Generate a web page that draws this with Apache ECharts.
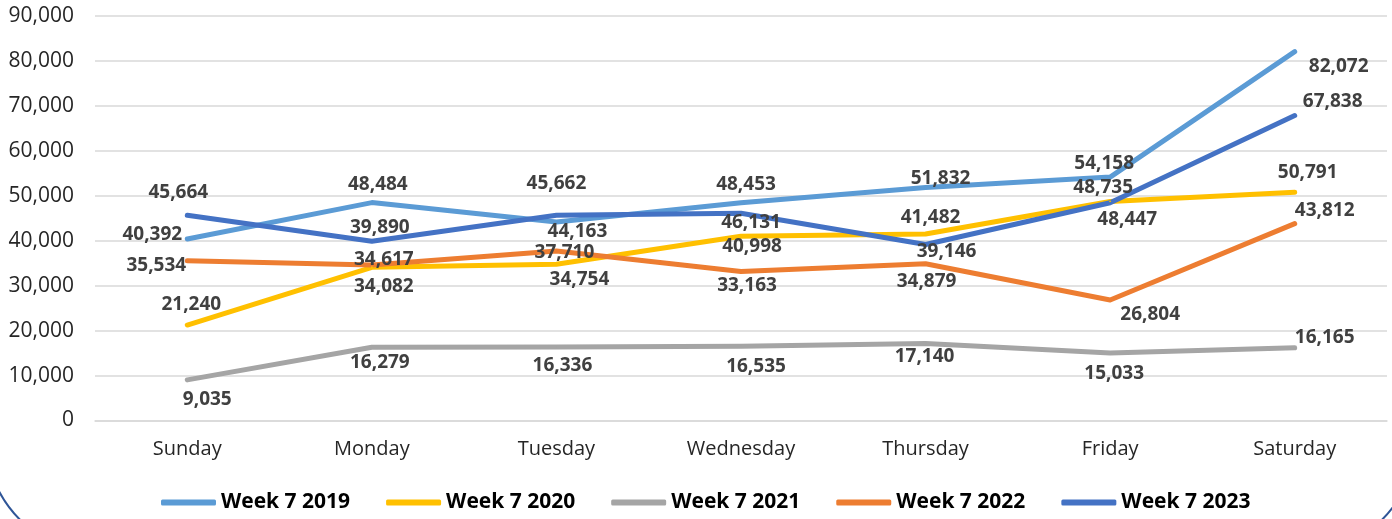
<!DOCTYPE html>
<html>
<head>
<meta charset="utf-8">
<script src="https://cdn.jsdelivr.net/npm/echarts@6/dist/echarts.min.js"></script>
<style>
    html, body {margin: 0; padding: 0; background: #fff;}
    #chart {width: 1392px; height: 519px;}
</style>
</head>
<body>
<div id="chart"></div>
<script>
const days = ['Sunday', 'Monday', 'Tuesday', 'Wednesday', 'Thursday', 'Friday', 'Saturday'];
const seriesNames = ['Week 7 2019', 'Week 7 2020', 'Week 7 2021', 'Week 7 2022', 'Week 7 2023'];
const week2019 = [40392, 48484, 44163, 48453, 51832, 54158, 82072];
const week2020 = [21240, 34082, 34754, 40998, 41482, 48735, 50791];
const week2021 = [9035, 16279, 16336, 16535, 17140, 15033, 16165];
const week2022 = [35534, 34617, 37710, 33163, 34879, 26804, 43812];
const week2023 = [45664, 39890, 45662, 46131, 39146, 48447, 67838];
const yTicks = {min: 0, max: 90000, interval: 10000};

const colors = ['#5B9BD5', '#FFC000', '#A5A5A5', '#ED7D31', '#4472C4'];

// label nudges (px, from the point to the label centre) so they sit where the Excel ones did
const labelOffsets = [
    [[-35, -4], [6, -18], [21, 10], [5, -18], [15, -9], [-6, -13], [44, 15]],
    [[4, -20], [12, 19], [23, 15], [11, 10], [5, -16], [-7, -14], [13, -20]],
    [[20, 20], [8, 15], [6, 19], [15, 20], [-1, 13], [4, 21], [30, -10]],
    [[-31, 5], [12, -5], [8, 2], [6, 14], [1, 18], [40, 15], [30, -13]],
    [[-9, -23], [8, -14], [0, -32], [10, 9], [21, 7], [17, 17], [38, -14]],
];

const values = [week2019, week2020, week2021, week2022, week2023];
const fmt = v => v.toLocaleString('en-US');

const chart = echarts.init(document.getElementById('chart'));
chart.setOption({
    animation: false,
    textStyle: {fontFamily: '"Open Sans", sans-serif'},
    grid: {left: 95, right: 5, top: 16, bottom: 98.5},
    xAxis: {
        type: 'category',
        data: days,
        boundaryGap: true,
        axisLine: {lineStyle: {color: '#D9D9D9', width: 1.5}},
        axisTick: {show: false},
        axisLabel: {fontSize: 20, color: '#262626', margin: 19},
    },
    yAxis: {
        type: 'value',
        ...yTicks,
        axisLine: {show: false},
        axisTick: {show: false},
        splitLine: {lineStyle: {color: '#D9D9D9', width: 1.5}},
        axisLabel: {fontSize: 21, color: '#262626', margin: 21, formatter: fmt},
    },
    legend: {
        data: seriesNames,
        left: 161,
        top: 492,
        padding: 0,
        icon: 'roundRect',
        itemWidth: 55,
        itemHeight: 6,
        itemGap: 36,
        textStyle: {fontSize: 21, fontWeight: 'bold', color: '#000'},
    },
    graphic: [{
        type: 'rect',
        silent: true,
        z: -1,
        shape: {x: -15, y: -200, width: 1432, height: 755, r: 120},
        style: {fill: 'none', stroke: '#2F5597', lineWidth: 2},
    }],
    series: seriesNames.map((name, i) => ({
        name,
        type: 'line',
        symbol: 'circle',
        symbolSize: 2,
        showSymbol: true,
        color: colors[i],
        lineStyle: {width: 5, cap: 'round', join: 'round'},
        emphasis: {disabled: true},
        data: values[i].map((v, j) => ({
            value: v,
            label: {offset: labelOffsets[i][j]},
        })),
        label: {
            show: true,
            position: 'inside',
            color: '#404040',
            fontSize: 19,
            fontWeight: 'bold',
            textBorderWidth: 0,
            formatter: p => fmt(p.value),
        },
    })),
});
</script>
</body>
</html>
